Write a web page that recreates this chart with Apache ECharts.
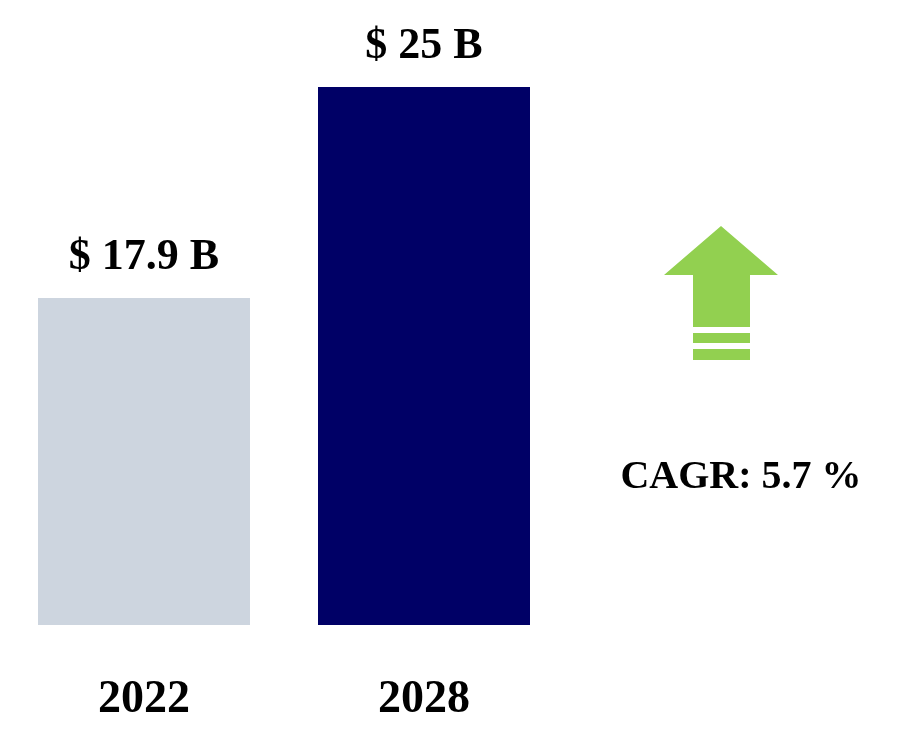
<!DOCTYPE html><html><head><meta charset="utf-8"><script src="https://cdn.jsdelivr.net/npm/echarts@6/dist/echarts.min.js"></script>
<style>html,body{margin:0;padding:0;background:#fff}#c{width:909px;height:752px}</style></head><body><div id="c"></div><script>
const categories=['2022','2028'];
const values=[17.9,25];
const labels=['$ 17.9 B','$ 25 B'];
const colors=['#cdd5df','#000066'];
const cagrText='CAGR: 5.7 %';
const ch=echarts.init(document.getElementById('c'));
const F='"Liberation Serif", "Times New Roman", serif';
ch.setOption({
 animation:false,
 grid:{left:4,width:560,top:87,bottom:127},
 xAxis:{type:'category',data:categories,axisLine:{show:false},axisTick:{show:false},
  axisLabel:{margin:52,fontFamily:F,fontWeight:'bold',fontSize:46,color:'#000'}},
 yAxis:{type:'value',min:6.9,max:25,show:false,splitLine:{show:false}},
 series:[{type:'bar',barWidth:212,data:values.map((v,i)=>({value:v,itemStyle:{color:colors[i]}})),
  label:{show:true,position:'top',distance:18,formatter:p=>labels[p.dataIndex],fontFamily:F,fontWeight:'bold',fontSize:44,color:'#000'}}],
 graphic:[
  {type:'polygon',shape:{points:[[664,275],[721,226],[778,275],[750,275],[750,327],[693,327],[693,275]]},style:{fill:'#92d050'}},
  {type:'rect',shape:{x:693,y:333,width:57,height:10},style:{fill:'#92d050'}},
  {type:'rect',shape:{x:693,y:349,width:57,height:11},style:{fill:'#92d050'}},
  {type:'text',x:741,y:478,style:{text:cagrText,fontFamily:F,fontWeight:'bold',fontSize:40,fill:'#000',align:'center',verticalAlign:'middle'}}
 ]
});
</script></body></html>
